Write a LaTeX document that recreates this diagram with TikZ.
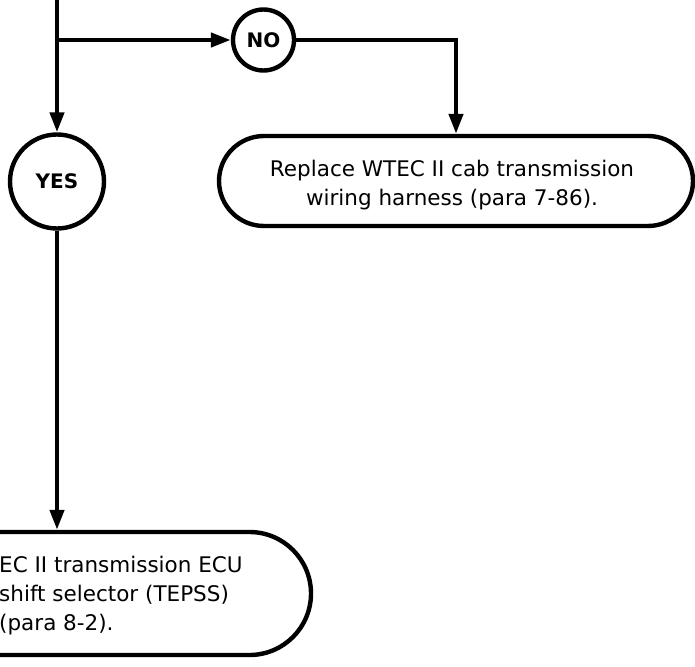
\documentclass[tikz,border=0pt]{standalone}
\usepackage{fontspec}
\setmainfont{DejaVu Sans}
\usetikzlibrary{shapes.misc, arrows.meta, positioning}
\tikzset{
  answer/.style={circle, draw, line width=4.4pt, inner sep=0pt, font=\fontsize{20}{24}\selectfont\bfseries},
  action/.style={rounded rectangle, draw, line width=4.4pt, inner sep=0pt},
  actiontext/.style={inner sep=0pt, font=\fontsize{21.5}{29}\selectfont},
  flow/.style={line width=4.4pt},
  arrow/.style={flow, -{Triangle[length=20pt, width=14pt]}},
}

\begin{document}
\begin{tikzpicture}[x=1pt, y=-1pt]
  \useasboundingbox (0,0) rectangle (695,666);
  \coordinate (top) at (57,-4);
  \coordinate (split) at (57,40);
  \node[answer, minimum size=61pt] (no) at (263.5,40) {NO};
  \node[answer, minimum size=94pt] (yes) at (57,181.5) {YES};
  \node[action, minimum width=474pt, minimum height=90pt] (harness) at (456,181) {};
  \node[actiontext, align=center] (harnesstext) at ([xshift=-4pt, yshift=-4pt]harness.center)
    {Replace WTEC II cab transmission\\wiring harness (para 7-86).};
  \node[action, minimum width=508pt, minimum height=123pt] (ecu) at (57,593.5) {};
  \node[actiontext, align=left, anchor=west] (ecutext) at (-1,596)
    {EC II transmission ECU\\shift selector (TEPSS)\\(para 8-2).};
  \draw[arrow] (top) -- (yes);
  \draw[arrow] (split) -- (no);
  \draw[arrow] (no) -| (harness);
  \draw[arrow] (yes) -- (ecu);
\end{tikzpicture}
\end{document}
